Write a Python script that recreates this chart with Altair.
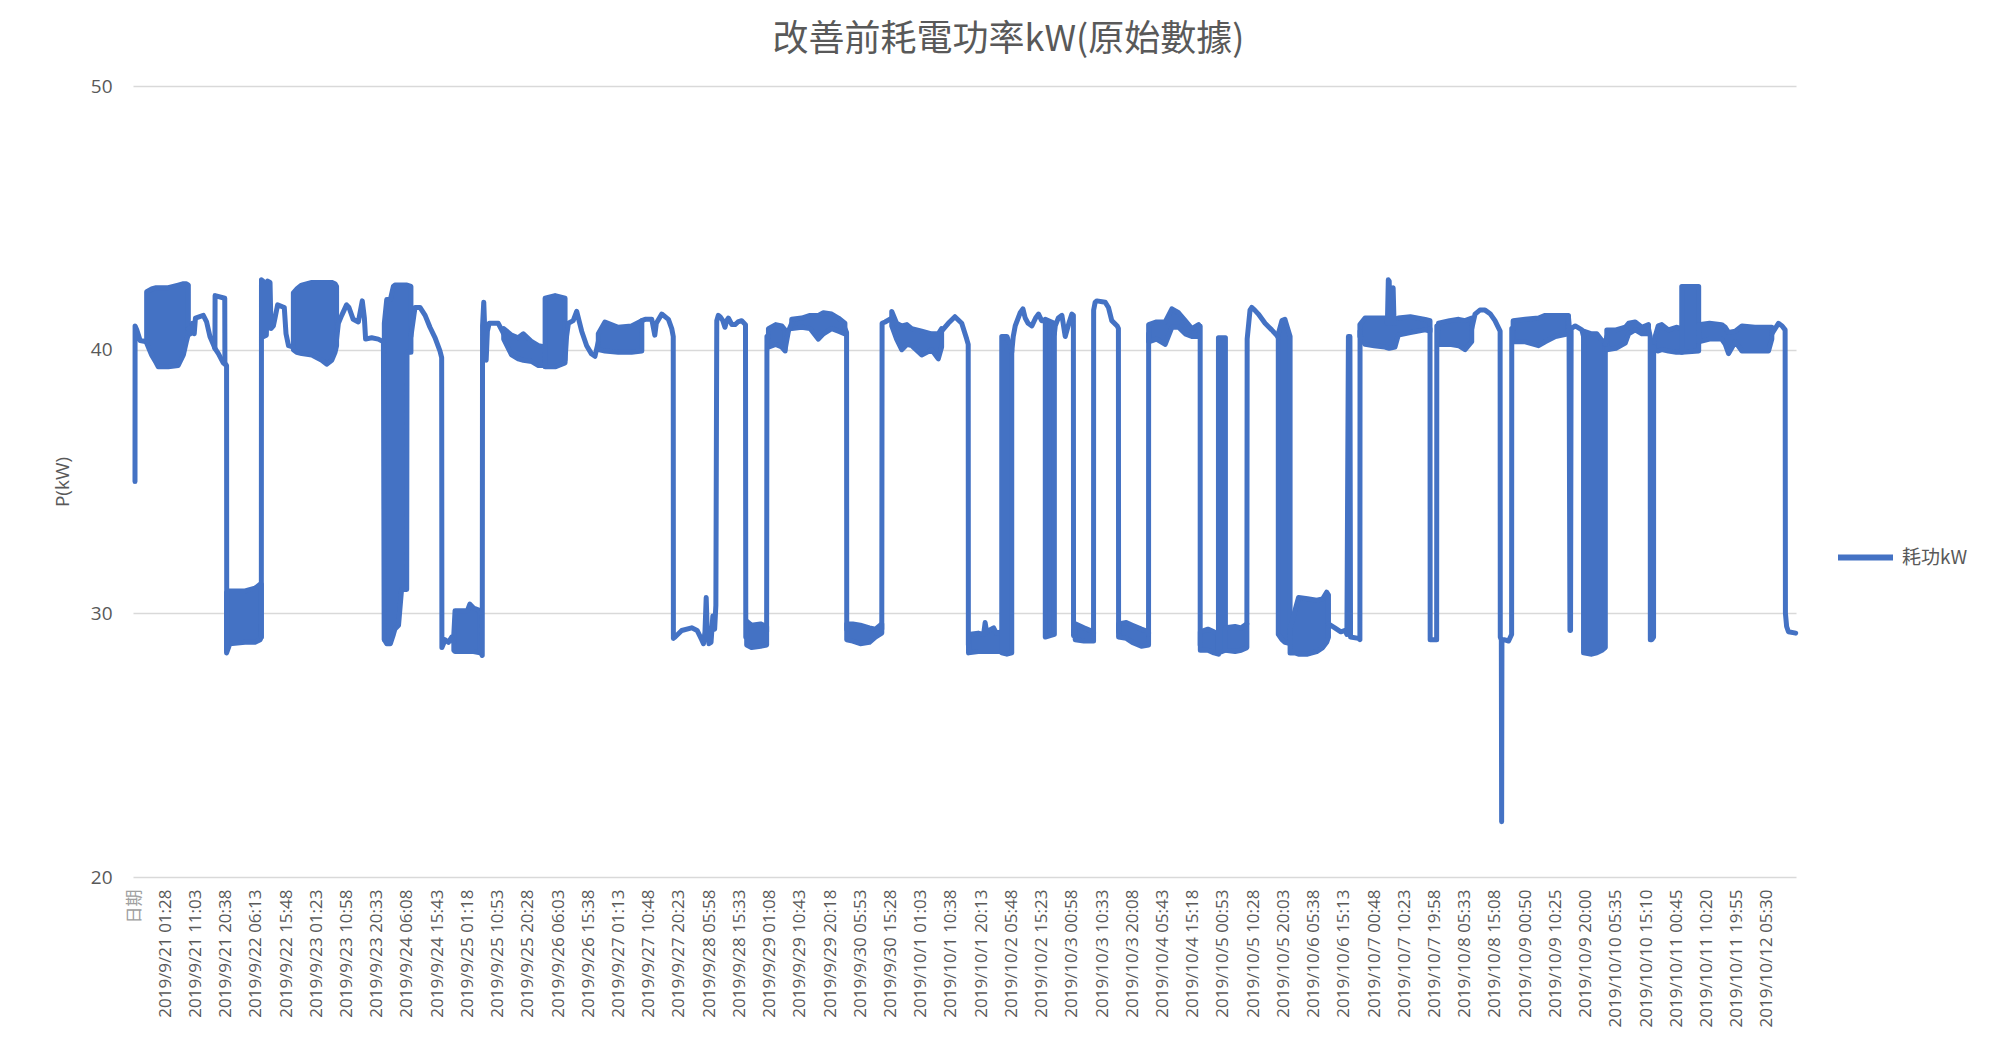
import altair as alt
import pandas as pd

# ---------------- data ----------------
TITLE = "改善前耗電功率kW(原始數據)"
SERIES = "耗功kW"
Y_TITLE = "P(kW)"
Y_TICKS = [20, 30, 40, 50]

X_LABELS = [
    "日期",
    "2019/9/21 01:28", "2019/9/21 11:03", "2019/9/21 20:38",
    "2019/9/22 06:13", "2019/9/22 15:48",
    "2019/9/23 01:23", "2019/9/23 10:58", "2019/9/23 20:33",
    "2019/9/24 06:08", "2019/9/24 15:43",
    "2019/9/25 01:18", "2019/9/25 10:53", "2019/9/25 20:28",
    "2019/9/26 06:03", "2019/9/26 15:38",
    "2019/9/27 01:13", "2019/9/27 10:48", "2019/9/27 20:23",
    "2019/9/28 05:58", "2019/9/28 15:33",
    "2019/9/29 01:08", "2019/9/29 10:43", "2019/9/29 20:18",
    "2019/9/30 05:53", "2019/9/30 15:28",
    "2019/10/1 01:03", "2019/10/1 10:38", "2019/10/1 20:13",
    "2019/10/2 05:48", "2019/10/2 15:23",
    "2019/10/3 00:58", "2019/10/3 10:33", "2019/10/3 20:08",
    "2019/10/4 05:43", "2019/10/4 15:18",
    "2019/10/5 00:53", "2019/10/5 10:28", "2019/10/5 20:03",
    "2019/10/6 05:38", "2019/10/6 15:13",
    "2019/10/7 00:48", "2019/10/7 10:23", "2019/10/7 19:58",
    "2019/10/8 05:33", "2019/10/8 15:08",
    "2019/10/9 00:50", "2019/10/9 10:25", "2019/10/9 20:00",
    "2019/10/10 05:35", "2019/10/10 15:10",
    "2019/10/11 00:45", "2019/10/11 10:20", "2019/10/11 19:55",
    "2019/10/12 05:30",
]

# Trace segments: (position in label intervals, kW)
TRACE = [
    [(0.000, 35.0), (0.003, 40.9), (0.06, 40.75), (0.17, 40.35), (0.386, 40.3)],
    [(1.765, 40.8), (1.83, 40.6), (1.90, 41.0), (1.96, 40.6), (2.00, 41.2), (2.26, 41.3),
     (2.37, 41.05), (2.48, 40.5), (2.59, 40.2), (2.645, 40.05), (2.65, 42.05), (2.97, 41.95),
     (2.975, 39.5), (3.03, 39.4), (3.035, 28.6)],
    [(2.645, 40.05), (2.76, 39.85), (2.92, 39.5), (2.975, 39.45)],
    [(4.18, 29.1), (4.185, 42.65), (4.236, 42.6), (4.258, 40.5), (4.346, 40.55), (4.39, 42.6),
     (4.468, 42.55), (4.50, 40.8), (4.578, 40.9), (4.633, 41.2), (4.72, 41.7), (4.94, 41.6),
     (4.997, 40.6), (5.08, 40.15), (5.24, 40.1)],
    [(6.67, 40.4), (6.73, 41.0), (6.84, 41.3), (7.0, 41.7), (7.08, 41.6), (7.22, 41.15),
     (7.39, 41.05), (7.52, 41.85), (7.59, 41.2), (7.63, 40.4), (7.83, 40.45), (8.05, 40.4),
     (8.22, 40.3), (8.25, 29.0)],
    [(9.13, 40.5), (9.265, 41.6), (9.43, 41.6), (9.6, 41.3), (9.76, 40.85), (9.93, 40.45),
     (10.09, 39.95), (10.147, 39.7), (10.155, 28.7), (10.26, 29.0), (10.37, 28.9),
     (10.48, 29.1), (10.55, 28.9)],
    [(11.42, 28.6), (11.49, 28.4), (11.50, 40.9), (11.54, 41.8), (11.58, 40.5), (11.62, 39.6),
     (11.66, 40.7), (11.72, 41.0), (12.02, 41.0), (12.2, 40.6)],
    [(14.23, 39.6), (14.28, 40.5), (14.34, 41.0), (14.5, 41.1), (14.615, 41.45), (14.78, 40.7),
     (14.945, 40.15), (15.1, 39.85), (15.22, 39.75), (15.33, 40.3)],
    [(16.77, 41.1), (16.88, 41.15), (17.1, 41.15), (17.2, 40.55), (17.25, 41.0), (17.43, 41.35),
     (17.65, 41.15), (17.76, 40.8), (17.81, 40.5), (17.815, 29.05), (17.87, 29.1),
     (18.09, 29.35), (18.42, 29.45), (18.6, 29.35), (18.75, 29.0), (18.81, 28.85),
     (18.86, 29.3), (18.90, 30.6), (18.93, 29.5), (18.99, 28.85), (19.06, 28.9), (19.12, 29.9),
     (19.18, 29.4), (19.22, 30.3), (19.25, 41.1), (19.30, 41.3), (19.36, 41.25), (19.45, 41.1),
     (19.52, 40.85), (19.58, 41.1), (19.634, 41.2), (19.75, 40.95), (19.855, 40.95),
     (19.95, 41.05), (20.075, 41.1), (20.2, 40.95), (20.21, 29.1), (20.24, 29.2)],
    [(20.90, 29.3), (20.91, 40.5), (20.96, 40.5)],
    [(21.51, 40.0), (21.62, 40.7), (21.73, 41.0)],
    [(23.49, 40.8), (23.545, 40.65), (23.55, 29.4)],
    [(24.71, 29.4), (24.72, 41.0), (24.82, 41.05), (25.04, 41.2)],
    [(26.69, 40.7), (26.91, 41.0), (27.13, 41.25), (27.355, 41.0), (27.52, 40.4),
     (27.57, 40.2), (27.575, 28.8), (27.58, 28.8)],
    [(29.01, 39.9), (29.06, 40.5), (29.125, 40.9), (29.29, 41.4), (29.38, 41.55),
     (29.455, 41.2), (29.55, 41.0), (29.676, 40.9), (29.8, 41.2), (29.897, 41.35),
     (30.0, 41.1), (30.12, 41.1)],
    [(30.42, 40.6), (30.45, 40.9), (30.55, 41.2), (30.67, 41.3), (30.78, 40.5), (30.9, 41.0),
     (31.0, 41.35), (31.05, 41.3), (31.055, 29.15), (31.11, 29.3)],
    [(31.717, 29.2), (31.72, 41.5), (31.77, 41.8), (31.83, 41.85), (32.1, 41.8), (32.21, 41.6),
     (32.32, 41.1), (32.5, 40.9), (32.54, 40.8), (32.545, 29.3)],
    [(33.537, 29.2), (33.54, 40.6)],
    [(35.19, 40.9), (35.245, 40.9), (35.246, 28.8), (35.25, 28.9)],
    [(36.79, 29.6), (36.80, 40.4), (36.895, 41.5), (36.95, 41.6), (37.05, 41.5),
     (37.171, 41.35), (37.392, 41.0), (37.612, 40.75), (37.778, 40.55), (37.83, 40.45)],
    [(39.49, 29.6), (39.7, 29.45), (39.9, 29.3), (40.04, 29.35), (40.1, 29.2), (40.15, 40.5),
     (40.2, 40.5), (40.22, 29.1), (40.48, 29.05), (40.53, 29.0), (40.535, 40.7)],
    [(41.44, 41.0), (41.47, 42.65), (41.50, 42.6), (41.52, 41.0), (41.60, 41.0),
     (41.63, 42.35), (41.66, 41.0)],
    [(42.85, 40.8), (42.855, 29.0), (43.07, 29.0), (43.075, 40.9), (43.13, 40.8)],
    [(44.23, 40.8), (44.34, 41.35), (44.5, 41.5), (44.67, 41.5), (44.85, 41.35), (45.0, 41.1),
     (45.17, 40.7), (45.175, 29.1), (45.21, 29.0), (45.22, 22.1), (45.23, 29.0), (45.3, 29.0),
     (45.45, 28.95), (45.55, 29.2), (45.555, 40.8), (45.6, 40.8)],
    [(47.43, 41.25), (47.45, 41.0), (47.48, 29.35), (47.50, 29.35), (47.52, 40.8),
     (47.655, 40.9), (47.875, 40.75), (47.93, 40.5)],
    [(48.65, 40.2), (48.70, 40.5)],
    [(50.08, 40.8), (50.136, 40.5), (50.14, 29.0), (50.19, 29.0), (50.247, 29.1), (50.25, 40.1)],
    [(54.16, 40.6), (54.38, 41.0), (54.5, 40.9), (54.6, 40.75), (54.61, 30.0), (54.65, 29.5),
     (54.71, 29.3), (54.95, 29.25)],
]

# Dense-oscillation stretches: (position, low kW, high kW)
BANDS = [
    [(0.386, 40.25, 42.2), (0.55, 39.8, 42.3), (0.70, 39.5, 42.35), (0.77, 39.35, 42.35),
     (1.1, 39.35, 42.35), (1.43, 39.4, 42.45), (1.6, 39.8, 42.5), (1.70, 40.3, 42.5),
     (1.765, 40.6, 42.45)],
    [(3.03, 28.5, 30.8), (3.14, 28.85, 30.85), (3.64, 28.9, 30.85), (3.97, 28.9, 30.95),
     (4.14, 29.0, 31.1), (4.18, 29.1, 31.1)],
    [(5.24, 40.0, 42.15), (5.35, 39.9, 42.3), (5.515, 39.85, 42.45), (5.85, 39.8, 42.55),
     (6.18, 39.6, 42.55), (6.34, 39.45, 42.55), (6.51, 39.6, 42.55), (6.62, 39.9, 42.5),
     (6.67, 40.15, 42.4)],
    [(8.25, 29.0, 41.0), (8.33, 28.85, 41.9), (8.45, 28.85, 41.9), (8.55, 29.2, 42.4),
     (8.60, 29.4, 42.45), (8.72, 29.55, 42.45), (8.82, 30.9, 42.45), (8.99, 30.9, 42.45),
     (9.0, 39.9, 42.45), (9.13, 39.9, 42.4)],
    [(10.55, 28.6, 29.2), (10.59, 28.55, 30.1), (11.0, 28.55, 30.1), (11.08, 28.55, 30.35),
     (11.2, 28.55, 30.2), (11.42, 28.5, 30.1)],
    [(12.2, 40.4, 40.8), (12.46, 39.8, 40.55), (12.68, 39.65, 40.45), (12.85, 39.6, 40.6),
     (13.13, 39.55, 40.3), (13.35, 39.4, 40.15), (13.57, 39.4, 40.1)],
    [(13.57, 39.35, 41.95), (13.9, 39.35, 42.05), (14.23, 39.5, 41.95)],
    [(15.33, 40.0, 40.6), (15.55, 39.95, 41.05), (15.99, 39.9, 40.85), (16.43, 39.9, 40.9),
     (16.77, 39.95, 41.1)],
    [(20.24, 28.8, 29.7), (20.4, 28.7, 29.55), (20.7, 28.75, 29.6), (20.90, 28.8, 29.5)],
    [(20.96, 40.1, 40.8), (21.2, 40.2, 40.95), (21.4, 40.1, 40.9), (21.51, 39.95, 40.75)],
    [(21.73, 40.8, 41.15), (22.06, 40.85, 41.2), (22.336, 40.8, 41.3), (22.612, 40.4, 41.3),
     (22.777, 40.6, 41.4), (23.053, 40.8, 41.35), (23.274, 40.7, 41.2), (23.49, 40.6, 41.0)],
    [(23.55, 29.0, 29.6), (23.75, 28.95, 29.6), (24.0, 28.85, 29.55), (24.3, 28.9, 29.45),
     (24.5, 29.1, 29.4), (24.71, 29.25, 29.6)],
    [(25.04, 40.9, 41.45), (25.2, 40.4, 41.0), (25.37, 40.0, 40.9), (25.54, 40.2, 40.95),
     (25.7, 40.15, 40.8), (26.03, 39.8, 40.7), (26.36, 40.0, 40.6), (26.58, 39.65, 40.6),
     (26.69, 40.1, 40.8)],
    [(27.58, 28.5, 29.2), (27.9, 28.55, 29.25), (28.08, 28.55, 29.2), (28.13, 28.55, 29.65),
     (28.18, 28.55, 29.3), (28.41, 28.55, 29.45), (28.5, 28.55, 29.25), (28.68, 28.55, 29.3)],
    [(28.68, 28.5, 40.5), (28.85, 28.45, 40.5), (29.01, 28.5, 40.0)],
    [(30.12, 29.1, 41.15), (30.42, 29.2, 41.0)],
    [(31.11, 29.0, 29.6), (31.4, 28.95, 29.45), (31.717, 28.95, 29.3)],
    [(32.545, 29.1, 29.6), (32.8, 29.05, 29.65), (33.0, 28.9, 29.55), (33.3, 28.75, 29.4),
     (33.537, 28.8, 29.3)],
    [(33.54, 40.3, 40.95), (33.8, 40.4, 41.05), (34.088, 40.2, 41.05), (34.309, 40.85, 41.55),
     (34.53, 40.85, 41.4), (34.75, 40.6, 41.1), (34.97, 40.5, 40.8), (35.19, 40.5, 40.95)],
    [(35.25, 28.6, 29.3), (35.5, 28.6, 29.4), (35.7, 28.5, 29.3), (35.85, 28.45, 29.2)],
    [(35.85, 28.5, 40.45), (36.08, 28.6, 40.45)],
    [(36.08, 28.6, 29.45), (36.4, 28.55, 29.5), (36.6, 28.6, 29.45), (36.79, 28.7, 29.6)],
    [(37.83, 29.2, 40.6), (37.95, 29.0, 41.1), (38.05, 28.9, 41.15), (38.22, 28.85, 40.5)],
    [(38.22, 28.5, 29.4), (38.38, 28.5, 30.1), (38.5, 28.45, 30.6), (38.8, 28.45, 30.55),
     (39.1, 28.55, 30.5), (39.3, 28.7, 30.55), (39.43, 28.9, 30.8), (39.49, 29.1, 30.7)],
    [(40.53, 40.5, 40.95), (40.7, 40.2, 41.2), (41.0, 40.15, 41.2), (41.36, 40.1, 41.2),
     (41.5, 40.05, 41.1), (41.69, 40.1, 41.15), (41.8, 40.55, 41.2), (42.2, 40.65, 41.25),
     (42.69, 40.75, 41.15), (42.85, 40.7, 41.1)],
    [(43.13, 40.2, 41.0), (43.5, 40.2, 41.1), (43.8, 40.15, 41.15), (44.01, 40.0, 41.1),
     (44.23, 40.3, 41.2)],
    [(45.6, 40.3, 41.1), (46.0, 40.3, 41.15), (46.44, 40.15, 41.2), (46.66, 40.3, 41.3),
     (47.0, 40.5, 41.3), (47.43, 40.6, 41.3)],
    [(47.93, 28.5, 40.7), (48.2, 28.45, 40.6), (48.37, 28.5, 40.6), (48.54, 28.6, 40.35),
     (48.65, 28.7, 40.3)],
    [(48.7, 40.0, 40.75), (49.0, 40.05, 40.75), (49.31, 40.25, 40.85), (49.42, 40.6, 41.0),
     (49.64, 40.75, 41.05), (49.86, 40.6, 40.85), (50.08, 40.6, 40.95)],
    [(50.25, 40.0, 40.3), (50.4, 39.95, 40.9), (50.52, 40.0, 40.95), (50.74, 39.95, 40.75),
     (51.0, 39.9, 40.85), (51.18, 39.9, 40.8)],
    [(51.18, 39.9, 42.4), (51.74, 39.95, 42.4)],
    [(51.74, 40.3, 40.95), (52.1, 40.4, 41.0), (52.5, 40.4, 40.95), (52.62, 40.2, 40.85),
     (52.73, 39.85, 40.65), (52.95, 40.3, 40.7), (53.17, 39.95, 40.9), (53.6, 39.95, 40.85),
     (54.05, 39.95, 40.85), (54.16, 40.4, 40.85)],
]

# ---------------- tables ----------------
line_rows = []
k = 0
for s, seg in enumerate(TRACE):
    for p, v in seg:
        line_rows.append({"seg": s, "i": k, "pos": p, "kw": v, "series": SERIES})
        k += 1
line_df = pd.DataFrame(line_rows)

band_rows = []
for b, band in enumerate(BANDS):
    for p, lo, hi in band:
        band_rows.append({"band": b, "pos": p, "lo": lo, "hi": hi})
band_df = pd.DataFrame(band_rows)

label_expr = "[" + ",".join("'" + t + "'" for t in X_LABELS) + "][datum.value]"

BLUE = "#4472C4"
GREY = "#595959"

xs = alt.Scale(domain=[-0.066, 54.96], nice=False, zero=False)
ys = alt.Scale(domain=[20, 50], nice=False, zero=False)

x_axis = alt.Axis(
    values=list(range(len(X_LABELS))), labelExpr=label_expr,
    labelAngle=270, labelAlign="right", labelBaseline="middle",
    labelFont="Open Sans, Noto Sans CJK TC", labelFontSize=17,
    labelColor={"condition": {"test": "datum.value == 0", "value": "#a0a0a0"}, "value": GREY},
    labelPadding=12, labelOverlap=False, labelFlush=False, labelBound=False,
    grid=False, ticks=False, domain=False, title=None,
)
y_axis = alt.Axis(
    values=Y_TICKS, title=Y_TITLE, titleFont="Open Sans", titleFontSize=19,
    titleFontWeight="normal", titleColor=GREY, titlePadding=18,
    labelFont="Open Sans", labelFontSize=19, labelColor=GREY, labelPadding=21,
    grid=True, gridColor="#d9d9d9", gridWidth=1.5, ticks=False, domain=False,
)
legend = alt.Legend(
    title=None, orient="none", legendX=1702, legendY=441, symbolType="stroke",
    symbolStrokeWidth=6, symbolSize=3025, labelFont="Noto Sans CJK TC",
    labelFontSize=19, labelColor=GREY, labelOffset=6, padding=0,
)

bands = alt.Chart(band_df).mark_area(
    fill=BLUE, stroke=BLUE, strokeWidth=5, strokeJoin="round", opacity=1
).encode(
    x=alt.X("pos:Q", scale=xs, axis=x_axis),
    y=alt.Y("hi:Q", scale=ys, axis=y_axis),
    y2="lo:Q",
    detail="band:N",
)

trace = alt.Chart(line_df).mark_line(
    strokeWidth=5, strokeJoin="round", strokeCap="round"
).encode(
    x=alt.X("pos:Q", scale=xs, axis=x_axis),
    y=alt.Y("kw:Q", scale=ys, axis=y_axis),
    color=alt.Color("series:N", scale=alt.Scale(range=[BLUE]), legend=legend),
    detail="seg:N",
    order="i:Q",
)

chart = alt.layer(bands, trace).properties(
    width=1663, height=791,
    title=alt.TitleParams(
        TITLE, font="Noto Sans CJK TC", fontSize=36, fontWeight="normal",
        color=GREY, anchor="middle", frame="group", dx=44, offset=18,
    ),
    padding={"left": 125, "top": 78, "right": 190, "bottom": 150},
    autosize=alt.AutoSizeParams(type="none"),
    background="white",
).configure_view(stroke=None)

chart.save("out.html", embed_options={"renderer": "svg", "actions": False})
